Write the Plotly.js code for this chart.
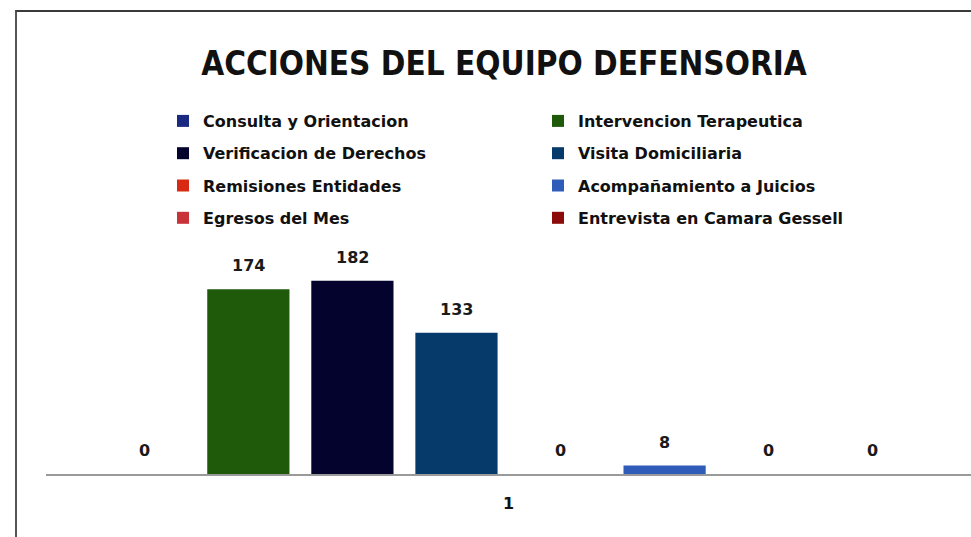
<!DOCTYPE html>
<html>
<head>
<meta charset="utf-8">
<script src="https://cdn.plot.ly/plotly-3.0.1.min.js"></script>
<style>
  html, body { margin: 0; padding: 0; background: #fff; }
  #chart { width: 971px; height: 537px; position: absolute; left: 0; top: 0; }
  #frame { position: absolute; left: 15px; top: 10px; width: 980px; height: 560px;
           border-top: 2px solid #3a3a3a; border-left: 2px solid #555; pointer-events: none; }
</style>
</head>
<body>
<div id="chart"></div>
<div id="frame"></div>
<script>
const categories = ["1"];
const seriesNames = [
  "Consulta y Orientacion",
  "Intervencion Terapeutica",
  "Verificacion de Derechos",
  "Visita Domiciliaria",
  "Remisiones Entidades",
  "Acompañamiento a Juicios",
  "Egresos del Mes",
  "Entrevista en Camara Gessell"
];
const seriesValues = [0, 174, 182, 133, 0, 8, 0, 0];
const seriesColors = ["#1B2A80", "#1F5A0B", "#03032E", "#053A6B", "#D82A12", "#2F5CB8", "#C8333A", "#8B0A0A"];

const FONT = "'DejaVu Sans', sans-serif";
const TITLE_FONT = "'DejaVu Sans Condensed', 'DejaVu Sans', sans-serif";
const bargap = 0.10;
const n = seriesNames.length;

const traces = seriesNames.map((name, i) => ({
  type: "bar",
  name: name,
  x: categories,
  y: [seriesValues[i]],
  marker: { color: seriesColors[i] },
  legend: (i % 2 === 0) ? "legend" : "legend2",
  legendgroup: name,
  hoverinfo: "skip"
}));

const annotations = seriesValues.map((v, i) => ({
  xref: "x", yref: "y",
  x: -0.5 + bargap / 2 + (i + 0.5) * (1 - bargap) / n,
  y: v,
  yanchor: "bottom",
  yshift: 12,
  text: String(v),
  showarrow: false,
  font: { family: FONT, size: 16, color: "#1a1a1a", weight: "bold" }
}));

const legendCommon = {
  orientation: "v",
  xref: "container", yref: "container",
  xanchor: "left", yanchor: "top",
  traceorder: "grouped",
  tracegroupgap: 8.5,
  bgcolor: "rgba(0,0,0,0)",
  font: { family: FONT, size: 16, color: "#111", weight: "bold" }
};

const layout = {
  width: 971, height: 537,
  paper_bgcolor: "#ffffff",
  plot_bgcolor: "#ffffff",
  margin: { l: 46, r: 0, t: 250, b: 63, autoexpand: false },
  title: {
    text: "<b>ACCIONES DEL EQUIPO DEFENSORIA</b>",
    x: 504 / 971, xanchor: "center",
    y: 1 - 63 / 537, yanchor: "middle",
    xref: "container", yref: "container",
    automargin: false,
    font: { family: TITLE_FONT, size: 33, color: "#111" }
  },
  barmode: "group",
  bargap: bargap,
  bargroupgap: 0.21,
  xaxis: {
    type: "category",
    showline: true, linecolor: "#9a9a9a", linewidth: 2,
    ticks: "", showgrid: false,
    tickfont: { family: FONT, size: 16, color: "#111", weight: "bold" },
    ticklabelstandoff: 14
  },
  yaxis: {
    range: [0, 211],
    visible: false, showgrid: false, zeroline: false
  },
  showlegend: true,
  legend: Object.assign({}, legendCommon, { x: 163 / 971, y: 1 - 104 / 537 }),
  legend2: Object.assign({}, legendCommon, { x: 538 / 971, y: 1 - 104 / 537 }),
  annotations: annotations
};

Plotly.newPlot("chart", traces, layout, { displayModeBar: false, staticPlot: true });
</script>
</body>
</html>
